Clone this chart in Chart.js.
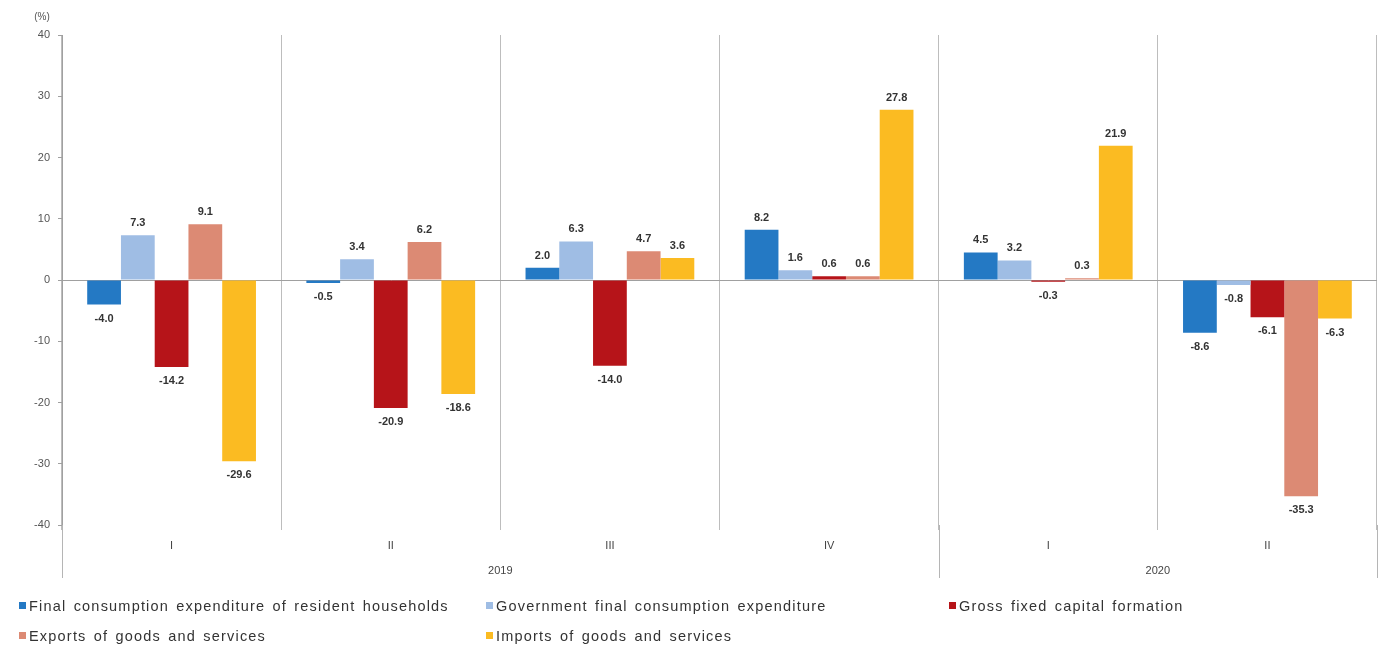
<!DOCTYPE html>
<html>
<head>
<meta charset="utf-8">
<script src="https://cdn.jsdelivr.net/npm/chart.js@4"></script>
<style>
  html, body { margin: 0; padding: 0; background: #fff; }
  #wrap { position: relative; width: 1384px; height: 648px; }
  #c { position: absolute; left: 0; top: 0; }
  .lg { position: absolute; font-family: "Liberation Sans", Arial, sans-serif; font-size: 14.5px; color: #333; white-space: nowrap; word-spacing: 2px; letter-spacing: 1.2px; }
  .lg i { display: inline-block; width: 7px; height: 7px; margin-right: 3px; vertical-align: 2px; }
</style>
</head>
<body>
<div id="wrap">
  <canvas id="c" width="1384" height="648"></canvas>
  <div id="legend"></div>
</div>
<script>
const quarters = ["I", "II", "III", "IV", "I", "II"];
const years = ["2019", "2020"];
const yearSpans = [4, 2];
const seriesNames = [
  "Final consumption expenditure of resident households",
  "Government final consumption expenditure",
  "Gross fixed capital formation",
  "Exports of goods and services",
  "Imports of goods and services"
];
const households = [-4.0, -0.5, 2.0, 8.2, 4.5, -8.6];
const government = [7.3, 3.4, 6.3, 1.6, 3.2, -0.8];
const capitalFormation = [-14.2, -20.9, -14.0, 0.6, -0.3, -6.1];
const exportsGS = [9.1, 6.2, 4.7, 0.6, 0.3, -35.3];
const importsGS = [-29.6, -18.6, 3.6, 27.8, 21.9, -6.3];
const yTicks = [-40, -30, -20, -10, 0, 10, 20, 30, 40];
const colors = ["#2479c4", "#9fbde4", "#b61419", "#dc8a74", "#fbbb22"];

const seriesData = [households, government, capitalFormation, exportsGS, importsGS];
const FONT = '"Liberation Sans", Arial, sans-serif';

// HTML legend
const legendPos = [[19, 598], [486, 598], [949, 598], [19, 628], [486, 628]];
const lg = document.getElementById('legend');
seriesNames.forEach((n, i) => {
  const d = document.createElement('div');
  d.className = 'lg';
  d.style.left = legendPos[i][0] + 'px';
  d.style.top = legendPos[i][1] + 'px';
  d.innerHTML = '<i style="background:' + colors[i] + '"></i>' + n;
  lg.appendChild(d);
});

const extras = {
  id: 'extras',
  afterDatasetsDraw(chart) {
    const ctx = chart.ctx;
    ctx.save();
    ctx.font = 'bold 11px ' + FONT;
    ctx.fillStyle = '#333';
    ctx.textAlign = 'center';
    ctx.textBaseline = 'middle';
    chart.data.datasets.forEach((ds, di) => {
      const meta = chart.getDatasetMeta(di);
      meta.data.forEach((bar, i) => {
        const v = ds.data[i];
        const y = v >= 0 ? bar.y - 12 : bar.y + 14;
        ctx.fillText(v.toFixed(1), bar.x, y);
      });
    });
    ctx.restore();
  },
  afterDraw(chart) {
    const ctx = chart.ctx;
    const xs = chart.scales.x;
    const area = chart.chartArea;
    const w = (xs.right - xs.left) / quarters.length;
    ctx.save();
    ctx.strokeStyle = '#b5b5b5';
    ctx.lineWidth = 1;
    ctx.fillStyle = '#444';
    ctx.font = '11px ' + FONT;
    ctx.textAlign = 'center';
    ctx.textBaseline = 'middle';
    let start = 0;
    const bounds = [0];
    yearSpans.forEach((s, k) => {
      const x0 = xs.left + start * w;
      const x1 = xs.left + (start + s) * w;
      ctx.fillText(years[k], (x0 + x1) / 2, area.bottom + 46);
      start += s;
      bounds.push(start);
    });
    bounds.forEach(b => {
      const x = Math.round(xs.left + b * w) + 0.5;
      ctx.beginPath();
      ctx.moveTo(x, area.bottom);
      ctx.lineTo(x, area.bottom + 53);
      ctx.stroke();
    });
    // (%) label
    ctx.fillStyle = '#555';
    ctx.font = '10px ' + FONT;
    ctx.fillText('(%)', 42, 17);
    ctx.restore();
  }
};

new Chart(document.getElementById('c'), {
  type: 'bar',
  data: {
    labels: quarters,
    datasets: seriesNames.map((n, i) => ({
      label: n,
      data: seriesData[i],
      backgroundColor: colors[i],
      borderWidth: 0,
      categoryPercentage: 0.77,
      barPercentage: 1.0
    }))
  },
  options: {
    responsive: false,
    animation: false,
    layout: { padding: { top: 35, right: 7, left: 0, bottom: 0 } },
    plugins: { legend: { display: false }, tooltip: { enabled: false } },
    scales: {
      x: {
        offset: true,
        afterFit(s) { s.height = 123; },
        grid: { offset: true, color: '#bdbdbd', drawOnChartArea: true, tickLength: 5, drawTicks: true },
        border: { display: false },
        ticks: { color: '#444', font: { family: FONT, size: 11 }, padding: 9 }
      },
      y: {
        min: -40, max: 40,
        afterFit(s) { s.width = 62; },
        afterBuildTicks(s) { s.ticks = yTicks.map(v => ({ value: v })); },
        grid: {
          drawOnChartArea: true,
          color: ctx => (ctx.tick && ctx.tick.value === 0) ? '#a0a0a0' : 'rgba(0,0,0,0)',
          tickColor: '#a0a0a0',
          tickLength: 4
        },
        border: { display: true, color: '#a0a0a0' },
        ticks: { color: '#555', font: { family: FONT, size: 11 }, padding: 8 }
      }
    }
  },
  plugins: [extras]
});
</script>
</body>
</html>
